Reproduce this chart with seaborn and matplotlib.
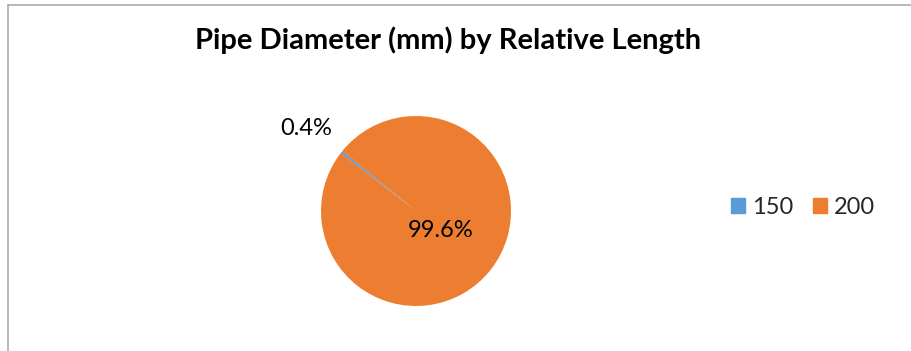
import numpy as np
import matplotlib
matplotlib.use("Agg")
import matplotlib.pyplot as plt
import seaborn as sns
from matplotlib.lines import Line2D

# 資料
diameters = ["150", "200"]
shares = [0.4, 99.6]
colors = ["#5B9BD5", "#ED7D31"]

sns.set_theme(style="white")
plt.rcParams["font.family"] = ["Lato", "DejaVu Sans"]

fig = plt.figure(figsize=(9.11, 3.51), dpi=100)

# 圖表外框 (上、左)
fig.add_artist(Line2D([8/911, 1.0], [1-5/351, 1-5/351], color="#ABABAB", lw=1.2))
fig.add_artist(Line2D([8/911, 8/911], [0, 1-5/351], color="#ABABAB", lw=1.2))

fig.text(448/911, 1-40/351, "Pipe Diameter (mm) by Relative Length",
         ha="center", va="center", fontsize=21, fontweight="bold", color="black")

ax = fig.add_axes([321/911, 45/351, 190/911, 190/351])
wedges, texts, autotexts = ax.pie(shares, colors=colors, startangle=141,
                                  autopct="%1.1f%%", pctdistance=0.33,
                                  wedgeprops=dict(linewidth=0),
                                  textprops=dict(fontsize=17, color="black"))
ax.set_xlim(-1, 1)
ax.set_ylim(-1, 1)
ax.set_aspect("equal")

# 小扇形標籤放在外側
w = wedges[0]
mid = np.deg2rad((w.theta1 + w.theta2) / 2)
autotexts[0].set_position((1.47 * np.cos(mid), 1.4 * np.sin(mid)))

handles = [plt.Rectangle((0, 0), 1, 1, color=c) for c in colors]
fig.legend(handles, diameters, loc="center", bbox_to_anchor=(803/911, 1-207/351),
           ncol=2, frameon=False, fontsize=17, handlelength=0.6, handleheight=0.6,
           handletextpad=0.3, columnspacing=0.8)

fig.savefig("out.png", dpi=100)
